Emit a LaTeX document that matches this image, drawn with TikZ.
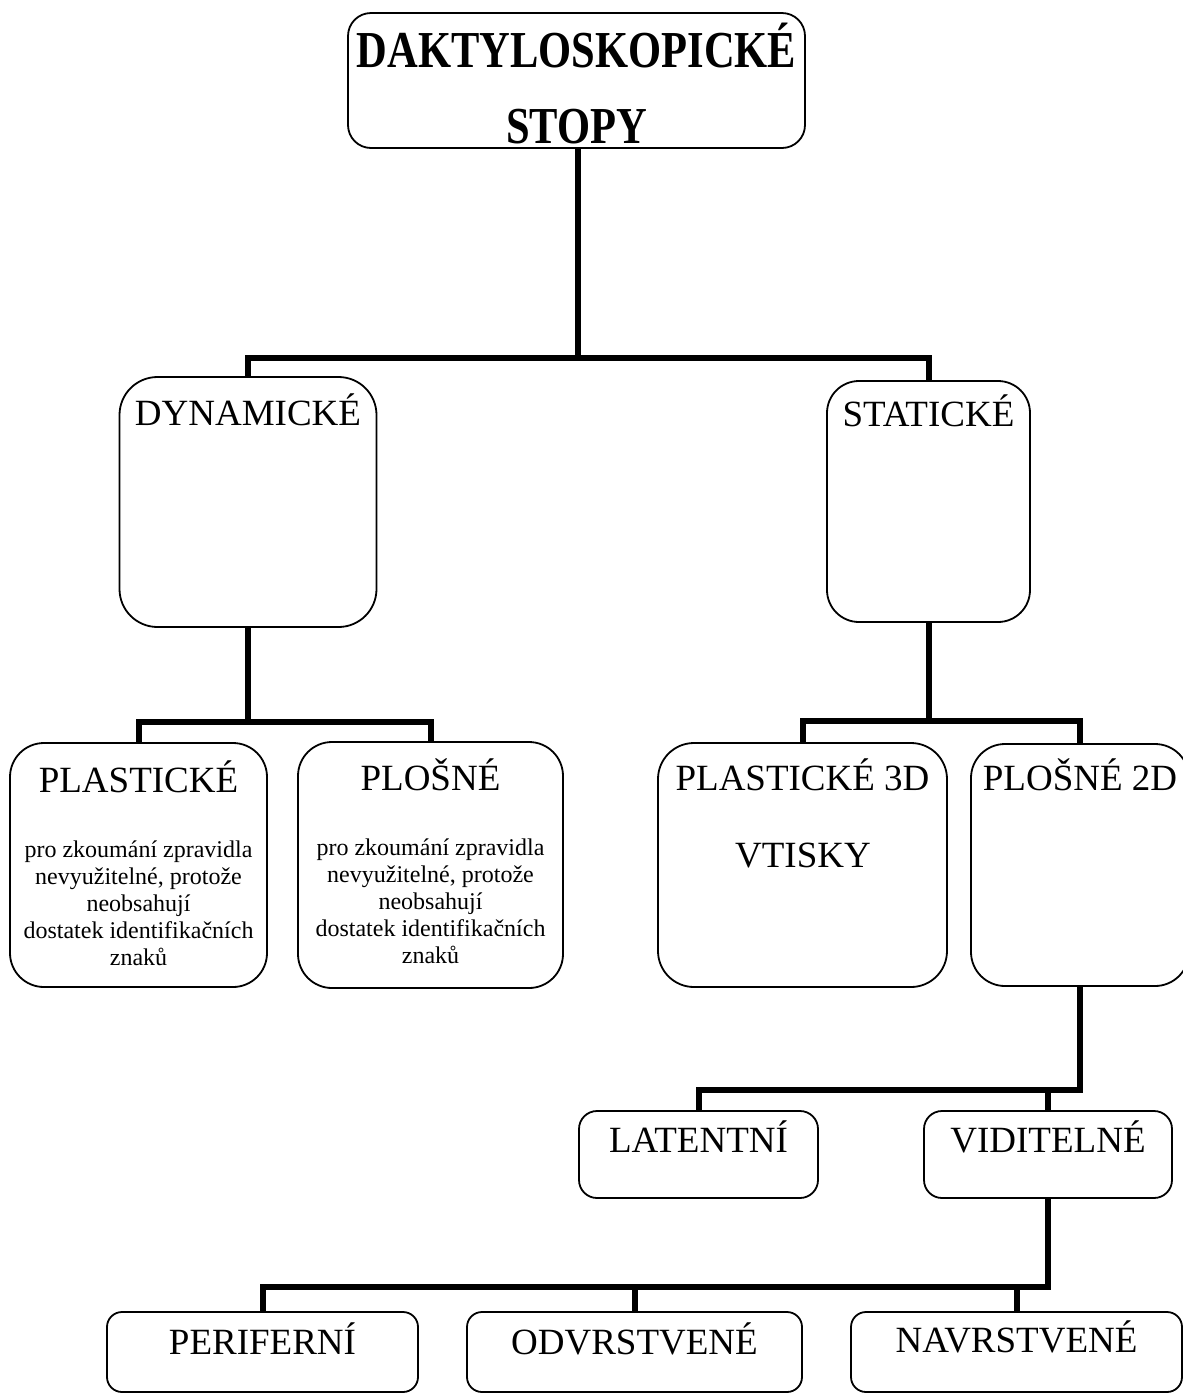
\documentclass[tikz,border=0pt]{standalone}
\usepackage{fontspec}
\setmainfont{Liberation Serif}[BoldFont={Liberation Serif Bold}]
\usepackage{graphicx}
\usetikzlibrary{positioning}

\begin{document}
\begin{tikzpicture}[
    x=1pt, y=-1pt,
    line join=miter,
    box/.style={draw=black, line width=1.8pt, rounded corners=#1, inner sep=0pt},
    box/.default=32pt,
    conn/.style={draw=black, line width=6pt},
    head/.style={anchor=base, inner sep=0pt, font=\fontsize{37}{42}\selectfont},
    desc/.style={inner sep=0pt, align=center, font=\fontsize{24}{27}\selectfont},
    ttl/.style={anchor=base, inner sep=0pt, font=\bfseries\fontsize{42.5}{48}\selectfont}
]

  % ==================== PARAMETRY ====================
  \def\yR{865}      % stred boxu ve treti rade
  \def\yL{1154.5}   % stred LATENTNI / VIDITELNE
  \def\yB{1352}     % stred spodni rady

  \useasboundingbox (0,0) rectangle (1183,1393);
  \clip (0,0) rectangle (1183,1393);

  % ==================== 1. BOXY ====================
  \node[box=23pt, minimum width=457, minimum height=135] (top)  at (576.5,80.5) {};
  \node[box=38pt, minimum width=257, minimum height=250] (dyn)  at (248,502) {};
  \node[box=32pt, minimum width=203, minimum height=241] (stat) at (928.5,501.5) {};

  \node[box=34pt, minimum width=257, minimum height=244] (pla)  at (138.5,\yR) {};
  \node[box=34pt, minimum width=265, minimum height=246] (plo)  at (430.5,\yR) {};
  \node[box=36pt, minimum width=289, minimum height=244] (pla3) at (802.5,\yR) {};
  \node[box=34pt, minimum width=218, minimum height=242] (plo2) at (1080,\yR) {};

  \node[box=18pt, minimum width=239, minimum height=87] (lat) at (698.5,\yL) {};
  \node[box=18pt, minimum width=248, minimum height=87] (vid) at (1048,\yL) {};

  \node[box=15pt, minimum width=311, minimum height=80] (per) at (262.5,\yB) {};
  \node[box=15pt, minimum width=335, minimum height=80] (odv) at (634.5,\yB) {};
  \node[box=15pt, minimum width=331, minimum height=80] (nav) at (1016.5,\yB) {};

  % ==================== 2. SPOJNICE ====================
  \coordinate (j1) at (578,358);
  \coordinate (j2) at (248,722);
  \coordinate (j3) at (928.5,721);
  \coordinate (j4) at (1080,1090);
  \coordinate (j5) at (1048,1287);

  \draw[conn] (j1 |- top.south) -- (j1);
  \draw[conn] (dyn.north) |- (j1) -| (stat.north);

  \draw[conn] (dyn.south) -- (j2);
  \draw[conn] (pla.north) |- (j2) -| (plo.north);

  \draw[conn] (stat.south) -- (j3);
  \draw[conn] (pla3.north) |- (j3) -| (plo2.north);

  \draw[conn] (plo2.south) -- (j4) -| (lat.north);
  \draw[conn] (vid.north) -- (vid.north |- j4);

  \draw[conn] (vid.south) -- (j5) -| (per.north);
  \draw[conn] (odv.north) -- (odv.north |- j5);
  \draw[conn] (nav.north) -- (nav.north |- j5);

  % ==================== 3. TEXTY ====================
  \node[ttl] (topA) at (576.5,67)  {\scalebox{1}[1.22]{DAKTYLOSKOPICKÉ}};
  \node[ttl] (topB) at (576.5,143) {\scalebox{1}[1.22]{STOPY}};

  \node[head] (dynT)  at (248,425)   {DYNAMICKÉ};
  \node[head] (statT) at (928.5,426) {STATICKÉ};

  \node[head] (plaT)  at (138.5,792) {PLASTICKÉ};
  \node[head] (ploT)  at (430.5,790) {PLOŠNÉ};
  \node[head] (pla3T) at (802.5,790) {PLASTICKÉ 3D};
  \node[head] (plo2T) at (1080,790)  {PLOŠNÉ 2D};
  \node[head] (vtT)   at (803,867)   {VTISKY};

  % popis u dynamickych stop
  \node[desc] (plaD) at (138.5,903) {pro zkoumání zpravidla\\nevyužitelné, protože\\neobsahují\\dostatek identifikačních\\znaků};
  \node[desc] (ploD) at (430.5,901) {pro zkoumání zpravidla\\nevyužitelné, protože\\neobsahují\\dostatek identifikačních\\znaků};

  \node[head] (latT) at (698.5,1152) {LATENTNÍ};
  \node[head] (vidT) at (1048,1152)  {VIDITELNÉ};

  \node[head] (perT) at (262.5,1354) {PERIFERNÍ};
  \node[head] (odvT) at (634.5,1354) {ODVRSTVENÉ};
  \node[head] (navT) at (1016.5,1352) {NAVRSTVENÉ};

\end{tikzpicture}
\end{document}
